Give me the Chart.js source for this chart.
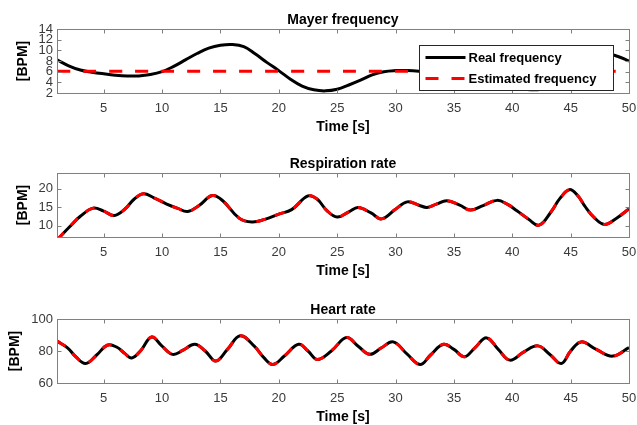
<!DOCTYPE html>
<html>
<head>
<meta charset="utf-8">
<script src="https://cdn.jsdelivr.net/npm/chart.js@4.4.1/dist/chart.umd.min.js"></script>
<style>
  html, body { margin: 0; padding: 0; background: #fff; overflow: hidden; }
  #wrap { position: relative; width: 637px; height: 425px; overflow: hidden; }
  .pane { position: absolute; left: 0; width: 637px; height: 145px; }
</style>
</head>
<body>
<div id="wrap">
  <div class="pane" style="top:-4px"><canvas id="mayer"></canvas></div>
  <div class="pane" style="top:140px"><canvas id="resp"></canvas></div>
  <div class="pane" style="top:286px"><canvas id="heart"></canvas></div>
</div>
<script>
// tick labels
const timeTicks = [5, 10, 15, 20, 25, 30, 35, 40, 45, 50];
const mayerTicks = [2, 4, 6, 8, 10, 12, 14];
const respTicks = [10, 15, 20];
const heartTicks = [60, 80, 100];

// Mayer frequency
const mayerTime = [1, 2, 3, 4, 5, 6, 7, 8, 9, 10, 11, 12, 13, 14, 15, 16, 17, 18, 19, 20,
    21, 22, 23, 24, 25, 26, 27, 28, 29, 30, 31, 32, 33, 34, 36, 38, 40, 41, 42, 43,
    44, 45, 46, 47, 48, 49, 50];
const mayerReal = [8.2, 7.1, 6.3, 5.9, 5.6, 5.35, 5.2, 5.2, 5.45, 6.0, 7.0, 8.2, 9.4, 10.4, 10.95, 11.1, 10.7, 9.3, 7.7, 6.2,
    4.6, 3.3, 2.6, 2.4, 2.7, 3.5, 4.4, 5.4, 6.0, 6.2, 6.2, 6.1, 5.9, 5.6, 4.7, 3.7, 2.9, 2.7, 2.6, 2.9,
    4.2, 6.0, 7.8, 9.0, 9.4, 8.9, 8.0];
const mayerEstTime = [1, 50];
const mayerEst = [6.1, 6.1];

// Respiration rate
const respTime = [1, 2, 3, 4.1, 5, 5.9, 6.8, 7.6, 8.4, 9.3, 10.4, 11.3, 12.2, 13.2, 14.3, 15.2, 16.6, 17.7,
    18.8, 20, 21.1, 22.5, 23.3, 24.1, 25, 26, 26.8, 27.9, 28.8, 30, 31, 32, 32.7, 33.5, 34.4, 35.5,
    36.4, 37.5, 38.7, 39.6, 40.4, 41.4, 42.3, 43.3, 44.1, 44.9, 45.6, 46.2, 47, 47.9, 48.9, 50];
const respRate = [6.2, 9.5, 12.6, 14.8, 14.0, 12.8, 14.5, 17.2, 18.7, 17.6, 15.9, 14.8, 13.9, 15.6, 18.2, 16.8, 12.1, 11.05,
    11.75, 13.2, 14.4, 18.1, 17.2, 14.2, 12.4, 13.8, 15.0, 13.5, 11.9, 14.5, 16.5, 15.6, 15.0, 15.9, 16.8, 15.6,
    14.3, 15.5, 16.9, 15.8, 14.1, 11.8, 10.2, 13.7, 17.5, 19.8, 18.2, 15.4, 12.3, 10.4, 12.0, 14.6];

// Heart rate
const heartTime = [1, 1.9, 2.6, 3.45, 4.4, 5.3, 6.1, 6.8, 7.4, 8.2, 9.1, 10, 10.9, 11.8, 12.8, 13.7, 14.6, 15.6,
    16.7, 17.9, 18.7, 19.5, 20.5, 21.7, 22.5, 23.3, 24.5, 25.8, 26.8, 27.8, 28.8, 29.8, 31, 32.1, 33, 34.1,
    35, 35.9, 36.8, 37.8, 38.8, 39.8, 41, 42.2, 43.2, 44.2, 45, 45.9, 47.2, 48.6, 50];
const heartRate = [86.2, 82, 76.5, 72.2, 77.5, 83.6, 82.5, 78.5, 75.6, 80.5, 88.8, 83, 77.9, 80.5, 84.2, 80, 73.7, 81,
    89.5, 83, 76, 71.6, 77, 84.2, 80, 74.7, 80, 88.4, 83, 77.9, 82, 85.7, 78, 71.6, 77.5, 84.2,
    81, 76.4, 82, 88.2, 81, 74.3, 79.5, 83.2, 78, 72.2, 80, 85.7, 81, 76.8, 82.1];

const FONT = "'Liberation Sans', Arial, Helvetica, sans-serif";

function toPoints(xs, ys) {
    return xs.map((x, i) => ({ x: x, y: ys[i] }));
}

// matlab style box with inward ticks
const boxPlugin = {
    id: 'boxPlugin',
    afterDraw(chart) {
        const { ctx, chartArea: a, scales } = chart;
        const L = Math.round(a.left) + 0.5, R = Math.round(a.right) + 0.5;
        const T = Math.round(a.top) + 0.5, B = Math.round(a.bottom) + 0.5;
        ctx.save();
        ctx.strokeStyle = '#808080';
        ctx.lineWidth = 1;
        ctx.beginPath();
        scales.x.ticks.forEach(t => {
            const px = Math.round(scales.x.getPixelForValue(t.value)) + 0.5;
            ctx.moveTo(px, B); ctx.lineTo(px, B - 4);
            ctx.moveTo(px, T); ctx.lineTo(px, T + 4);
        });
        scales.y.ticks.forEach(t => {
            const py = Math.round(scales.y.getPixelForValue(t.value)) + 0.5;
            ctx.moveTo(L, py); ctx.lineTo(L + 4, py);
            ctx.moveTo(R, py); ctx.lineTo(R - 4, py);
        });
        ctx.stroke();
        ctx.strokeRect(L, T, R - L, B - T);
        ctx.restore();
    }
};

// legend drawn inside the plot area, top right
const innerLegend = {
    id: 'innerLegend',
    afterDraw(chart) {
        const { ctx, chartArea: a } = chart;
        const w = 194, h = 45;
        const left = Math.round(a.right - 16 - w) + 0.5, top = Math.round(a.top + 16) + 0.5;
        ctx.save();
        ctx.fillStyle = '#fff';
        ctx.fillRect(left, top, w, h);
        ctx.strokeStyle = '#262626';
        ctx.lineWidth = 1;
        ctx.strokeRect(left, top, w, h);
        chart.data.datasets.forEach((ds, i) => {
            const cy = top + 12 + i * 21;
            ctx.beginPath();
            ctx.strokeStyle = ds.borderColor;
            ctx.lineWidth = ds.borderWidth;
            ctx.setLineDash(ds.borderDash || []);
            ctx.moveTo(left + 6, cy);
            ctx.lineTo(left + 46, cy);
            ctx.stroke();
            ctx.setLineDash([]);
            ctx.fillStyle = '#000';
            ctx.font = 'bold 13px ' + FONT;
            ctx.textBaseline = 'middle';
            ctx.textAlign = 'left';
            ctx.fillText(ds.label, left + 49, cy + 1);
        });
        ctx.restore();
    }
};

function makeChart(id, cfg) {
    const plugins = [boxPlugin];
    if (cfg.legend) plugins.push(innerLegend);
    return new Chart(document.getElementById(id), {
        type: 'line',
        data: { datasets: cfg.datasets },
        options: {
            responsive: true,
            maintainAspectRatio: false,
            animation: false,
            layout: { padding: { left: 0, right: 8, top: 0, bottom: 0 } },
            elements: {
                point: { radius: 0 },
                line: { tension: 0.4, borderCapStyle: 'butt' }
            },
            plugins: {
                legend: { display: false },
                tooltip: { enabled: false },
                title: {
                    display: true,
                    text: cfg.title,
                    fullSize: false,
                    color: '#000',
                    font: { family: FONT, size: 14, weight: 'bold' },
                    padding: { top: 16.2, bottom: 0 }
                }
            },
            scales: {
                x: {
                    type: 'linear',
                    min: 1,
                    max: 50,
                    grid: { display: false, drawTicks: false },
                    border: { display: false },
                    afterBuildTicks: s => { s.ticks = timeTicks.map(v => ({ value: v })); },
                    afterFit: s => { s.height = 48; s.paddingLeft = 0; s.paddingRight = 0; },
                    ticks: {
                        autoSkip: false, maxRotation: 0, padding: 8, color: '#3a3a3a',
                        font: { family: FONT, size: 13 }
                    },
                    title: {
                        display: true, text: 'Time [s]', color: '#000',
                        font: { family: FONT, size: 14, weight: 'bold' },
                        padding: { top: 0, bottom: 5 }
                    }
                },
                y: {
                    min: cfg.yMin,
                    max: cfg.yMax,
                    grid: { display: false, drawTicks: false },
                    border: { display: false },
                    afterBuildTicks: s => { s.ticks = cfg.yTicks.map(v => ({ value: v })); },
                    afterFit: s => { s.width = 57; s.paddingTop = 0; s.paddingBottom = 0; },
                    ticks: {
                        autoSkip: false, padding: 4, color: '#3a3a3a',
                        font: { family: FONT, size: 13 }
                    },
                    title: {
                        display: true, text: '[BPM]', color: '#000',
                        font: { family: FONT, size: 14, weight: 'bold' },
                        padding: { top: cfg.yTitlePad, bottom: 0 }
                    }
                }
            }
        },
        plugins: plugins
    });
}

// order: the red estimate is drawn on top of the black curve
makeChart('mayer', {
    title: 'Mayer frequency',
    yMin: 2, yMax: 14, yTicks: mayerTicks, yTitlePad: 15, legend: true,
    datasets: [
        { label: 'Real frequency', data: toPoints(mayerTime, mayerReal), borderColor: '#000', borderWidth: 3, order: 2 },
        { label: 'Estimated frequency', data: toPoints(mayerEstTime, mayerEst), borderColor: '#ff0000', borderWidth: 3, borderDash: [13, 13], order: 1 }
    ]
});

// the estimate follows the real curve so closely that both use the same readings
makeChart('resp', {
    title: 'Respiration rate',
    yMin: 7, yMax: 24.3, yTicks: respTicks, yTitlePad: 15,
    datasets: [
        { label: 'Real frequency', data: toPoints(respTime, respRate), borderColor: '#000', borderWidth: 3, order: 2 },
        { label: 'Estimated frequency', data: toPoints(respTime, respRate), borderColor: '#ff0000', borderWidth: 3, borderDash: [10, 10], order: 1 }
    ]
});

makeChart('heart', {
    title: 'Heart rate',
    yMin: 60, yMax: 100, yTicks: heartTicks, yTitlePad: 7,
    datasets: [
        { label: 'Real frequency', data: toPoints(heartTime, heartRate), borderColor: '#000', borderWidth: 3, order: 2 },
        { label: 'Estimated frequency', data: toPoints(heartTime, heartRate), borderColor: '#ff0000', borderWidth: 3, borderDash: [10, 10], order: 1 }
    ]
});
</script>
</body>
</html>
